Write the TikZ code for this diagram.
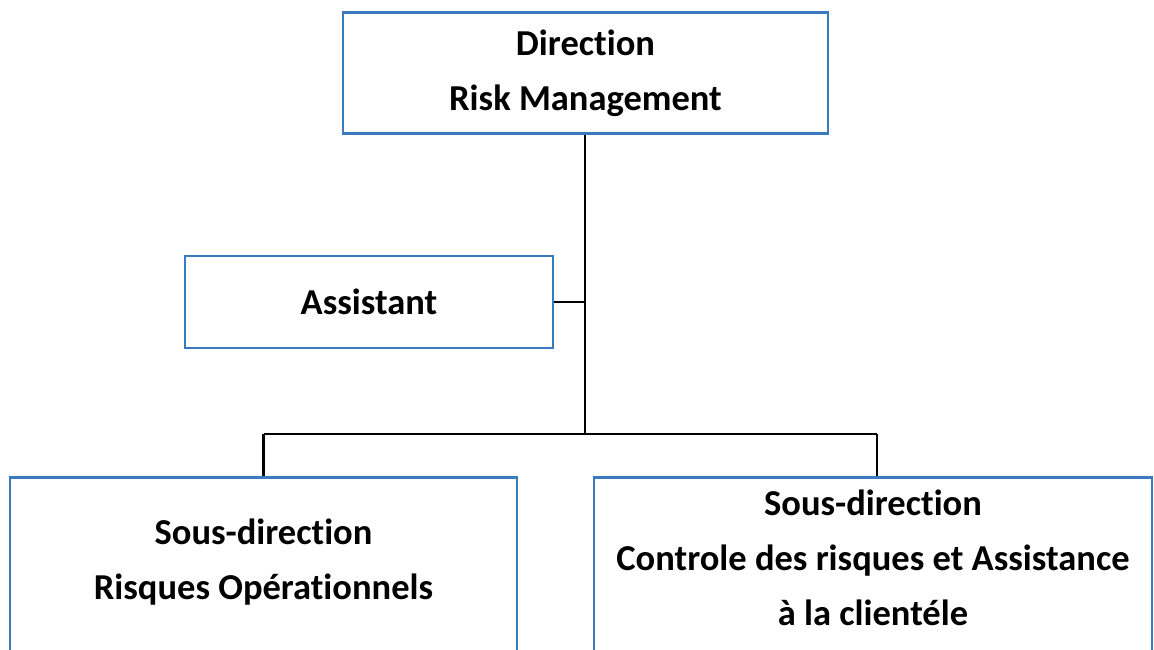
\documentclass[tikz,border=0pt]{standalone}
\usepackage{fontspec}
\setmainfont[Ligatures=NoCommon]{Carlito}
\definecolor{boxblue}{RGB}{58,122,192}
\begin{document}
\begin{tikzpicture}[x=1pt,y=-1pt,
  orgbox/.style={draw=boxblue,line width=2.5pt,fill=white,align=center,inner sep=0pt},
  orgtext/.style={align=center,inner sep=0pt,font=\fontsize{36.5}{55}\selectfont\bfseries},
  link/.style={draw=black,line width=2.5pt}]
\useasboundingbox (0,0) rectangle (1154,650);
\clip (0,0) rectangle (1154,650);
\node[orgbox,orgtext,minimum width=485pt,minimum height=121pt] (top) at (585.5,73) {Direction\\Risk Management};
\node[orgbox,orgtext,minimum width=368pt,minimum height=92pt] (asst) at (369,302) {Assistant};
\node[orgbox,minimum width=507pt,minimum height=260pt,anchor=north] (bl) at (263.5,476) {};
\node[orgbox,minimum width=558pt,minimum height=260pt,anchor=north] (br) at (873,476) {};
\node[orgtext] (bltext) at (263.5,562) {Sous-direction\\Risques Opérationnels};
\node[orgtext] (brtext) at (873,558) {Sous-direction\\Controle des risques et Assistance\\à la clientéle};
\coordinate (j) at (585,434);
\coordinate (jl) at (263.5,434);
\coordinate (jr) at (877,434);
\draw[link] (top.south -| j) -- (j);
\draw[link] (asst.east) -- (asst.east -| j);
\draw[link] (jl) -- (jr);
\draw[link] (jl) -- (bl.north);
\draw[link] (jr) -- (jr |- br.north);
\end{tikzpicture}
\end{document}
